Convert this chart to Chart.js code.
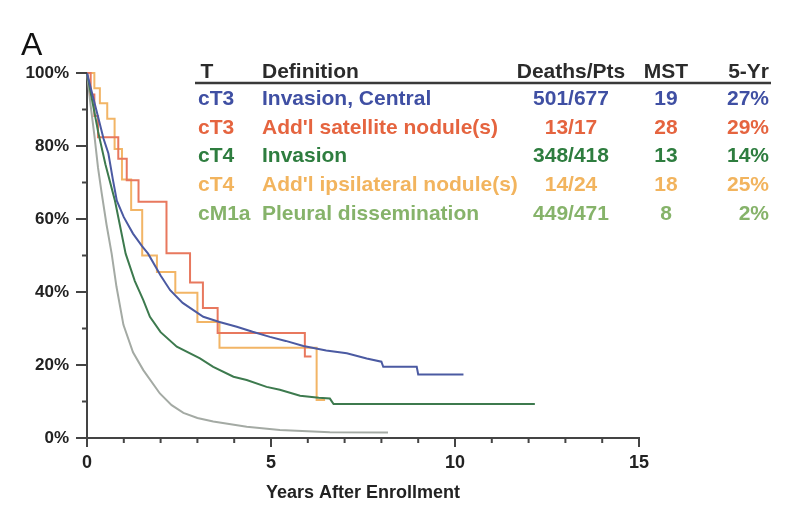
<!DOCTYPE html>
<html>
<head>
<meta charset="utf-8">
<script src="https://cdn.jsdelivr.net/npm/chart.js@4.4.1/dist/chart.umd.min.js"></script>
<style>
  html, body { margin: 0; padding: 0; background: #fff; }
  #wrap { width: 789px; height: 509px; }
</style>
</head>
<body>
<div id="wrap"><canvas id="survivalChart" width="789" height="509"></canvas></div>
<script>
// Survival (%) by years after enrollment, one pair of arrays per group
const centralYears = [0, 0.15, 0.3, 0.45, 0.58, 0.7, 0.81, 1.0, 1.25, 1.5, 1.66, 2.0, 2.26, 2.6, 3.16, 3.6, 4.07, 4.5, 4.97, 5.4, 5.88, 6.5, 7.06, 7.6, 8.0, 8.05, 8.96, 9.0, 10.23];
const centralSurv = [100, 94, 88, 82, 78, 71, 65, 60.5, 56, 52.5, 50.5, 44.5, 40.5, 37, 33.2, 31.8, 30.5, 29.1, 27.7, 26.6, 25.2, 24, 23.2, 21.8, 20.9, 19.5, 19.5, 17.4, 17.4];

const satelliteYears = [0, 0.1, 0.2, 0.3, 0.85, 1.08, 1.4, 2.16, 2.8, 3.15, 3.55, 5.92, 6.1];
const satelliteSurv = [100, 94.1, 88.2, 82.4, 76.5, 70.6, 64.7, 50.6, 42.6, 35.6, 28.8, 22.3, 22.3];

const invasionYears = [0, 0.15, 0.3, 0.5, 0.76, 1.05, 1.3, 1.53, 1.71, 2.0, 2.44, 3.07, 3.43, 3.98, 4.34, 4.88, 5.24, 5.79, 6.3, 6.6, 6.7, 12.17];
const invasionSurv = [100, 92, 84, 75, 65, 50.5, 43, 37.8, 33.2, 29, 25, 21.8, 19.5, 16.8, 15.9, 14, 13.2, 11.6, 11, 10.8, 9.3, 9.3];

const ipsilateralYears = [0, 0.2, 0.35, 0.55, 0.75, 0.95, 1.2, 1.5, 1.9, 2.4, 3.0, 3.6, 6.24, 6.47];
const ipsilateralSurv = [100, 95.8, 91.7, 87.5, 79.2, 70.8, 62.5, 50, 45.5, 39.8, 31.8, 24.7, 10.4, 10.4];

const pleuralYears = [0, 0.1, 0.2, 0.3, 0.4, 0.53, 0.67, 0.8, 0.99, 1.25, 1.53, 1.98, 2.3, 2.62, 3.0, 3.43, 4.34, 5.24, 6.6, 8.18];
const pleuralSurv = [100, 91, 83, 74, 67, 58.5, 50.5, 41.5, 31, 23.5, 18.6, 12.2, 9, 6.9, 5.5, 4.5, 3.1, 2.2, 1.6, 1.5];

// table beside the curves
const stageLabels = ['cT3', 'cT3', 'cT4', 'cT4', 'cM1a'];
const definitions = ['Invasion, Central', "Add'l satellite nodule(s)", 'Invasion', "Add'l ipsilateral nodule(s)", 'Pleural dissemination'];
const deathsPts = ['501/677', '13/17', '348/418', '14/24', '449/471'];
const mstMonths = ['19', '28', '13', '18', '8'];
const fiveYear = ['27%', '29%', '14%', '25%', '2%'];
const tableHeader = ['T', 'Definition', 'Deaths/Pts', 'MST', '5-Yr'];

const yTickStep = 10;   // minor every 10%, labelled every 20%
const xTickStep = 1;    // minor every year, labelled every 5

const rowColors = ['#3f4fa3', '#e5643f', '#2e7d3f', '#f2b45e', '#86b36a'];
const lineColors = ['#4b5aa2', '#e8785e', '#3d7a4e', '#f2b566', '#a4aaa4'];

const FONT = '"Liberation Sans", Arial, sans-serif';

function toPoints(xs, ys) {
  return xs.map((x, i) => ({ x: x, y: ys[i] }));
}

// axis tick marks: long for labelled values, short for the rest
const tickMarks = {
  id: 'tickMarks',
  afterDraw(chart) {
    const ctx = chart.ctx;
    const { x, y } = chart.scales;
    const area = chart.chartArea;
    ctx.save();
    ctx.strokeStyle = '#444';
    ctx.lineWidth = 2;
    y.ticks.forEach(t => {
      const py = y.getPixelForValue(t.value);
      const len = t.value % 20 === 0 ? 11 : 5;
      ctx.beginPath();
      ctx.moveTo(area.left, py);
      ctx.lineTo(area.left - len, py);
      ctx.stroke();
    });
    x.ticks.forEach(t => {
      const px = x.getPixelForValue(t.value);
      const len = t.value % 5 === 0 ? 9 : 5;
      ctx.beginPath();
      ctx.moveTo(px, area.bottom);
      ctx.lineTo(px, area.bottom + len);
      ctx.stroke();
    });
    ctx.restore();
  }
};

// panel letter and the stage table
const stageTable = {
  id: 'stageTable',
  afterDraw(chart) {
    const ctx = chart.ctx;
    ctx.save();
    ctx.fillStyle = '#111';
    ctx.font = '32px ' + FONT;
    ctx.textBaseline = 'alphabetic';
    ctx.textAlign = 'left';
    ctx.fillText('A', 21, 55);

    const colStage = 198, colDef = 262, colDeaths = 571, colMst = 666, colFive = 769;
    const headY = 72, rowY = 99, rowH = 28.8;

    ctx.font = 'bold 21px ' + FONT;
    ctx.textBaseline = 'middle';
    ctx.fillStyle = '#2b2b2b';
    ctx.textAlign = 'center';
    ctx.fillText(tableHeader[0], 207, headY);
    ctx.textAlign = 'left';
    ctx.fillText(tableHeader[1], colDef, headY);
    ctx.textAlign = 'center';
    ctx.fillText(tableHeader[2], colDeaths, headY);
    ctx.fillText(tableHeader[3], colMst, headY);
    ctx.textAlign = 'right';
    ctx.fillText(tableHeader[4], colFive, headY);

    ctx.strokeStyle = '#3a3a3a';
    ctx.lineWidth = 2.5;
    ctx.beginPath();
    ctx.moveTo(195, 83);
    ctx.lineTo(771, 83);
    ctx.stroke();

    stageLabels.forEach((s, i) => {
      const yy = rowY + i * rowH;
      ctx.fillStyle = rowColors[i];
      ctx.textAlign = 'left';
      ctx.fillText(s, colStage, yy);
      ctx.fillText(definitions[i], colDef, yy);
      ctx.textAlign = 'center';
      ctx.fillText(deathsPts[i], colDeaths, yy);
      ctx.fillText(mstMonths[i], colMst, yy);
      ctx.textAlign = 'right';
      ctx.fillText(fiveYear[i], colFive, yy);
    });
    ctx.restore();
  }
};

const groups = [
  { xs: centralYears, ys: centralSurv, stepped: false },
  { xs: satelliteYears, ys: satelliteSurv, stepped: true },
  { xs: invasionYears, ys: invasionSurv, stepped: false },
  { xs: ipsilateralYears, ys: ipsilateralSurv, stepped: true },
  { xs: pleuralYears, ys: pleuralSurv, stepped: false }
];

const ctx = document.getElementById('survivalChart').getContext('2d');
const survivalChart = new Chart(ctx, {
  type: 'scatter',
  data: {
    datasets: groups.map((g, i) => ({
      label: definitions[i],
      data: toPoints(g.xs, g.ys),
      showLine: true,
      stepped: g.stepped,
      borderColor: lineColors[i],
      borderWidth: 2,
      pointRadius: 0,
      fill: false,
      clip: 4,
      order: [0, 2, 1, 3, 4][i]
    }))
  },
  options: {
    responsive: false,
    animation: false,
    layout: { padding: { top: 73, right: 150, bottom: 0, left: 0 } },
    plugins: {
      legend: { display: false },
      tooltip: { enabled: false }
    },
    scales: {
      x: {
        type: 'linear',
        min: 0,
        max: 15,
        afterFit: scale => { scale.height = 71; },
        grid: { display: false, drawTicks: false },
        border: { display: true, color: '#444', width: 2 },
        ticks: {
          stepSize: xTickStep,
          autoSkip: false,
          maxRotation: 0,
          padding: 14,
          color: '#222',
          font: { family: FONT, size: 18, weight: 'bold' },
          callback: v => (v % 5 === 0 ? v : '')
        },
        title: {
          display: true,
          text: 'Years After Enrollment',
          color: '#222',
          font: { family: FONT, size: 18, weight: 'bold' },
          padding: { top: 0, bottom: 5 }
        }
      },
      y: {
        min: 0,
        max: 100,
        afterFit: scale => { scale.width = 87; },
        grid: { display: false, drawTicks: false },
        border: { display: true, color: '#444', width: 2 },
        ticks: {
          stepSize: yTickStep,
          autoSkip: false,
          padding: 18,
          color: '#222',
          font: { family: FONT, size: 17, weight: 'bold' },
          callback: v => (v % 20 === 0 ? v + '%' : '')
        }
      }
    }
  },
  plugins: [tickMarks, stageTable]
});
</script>
</body>
</html>
